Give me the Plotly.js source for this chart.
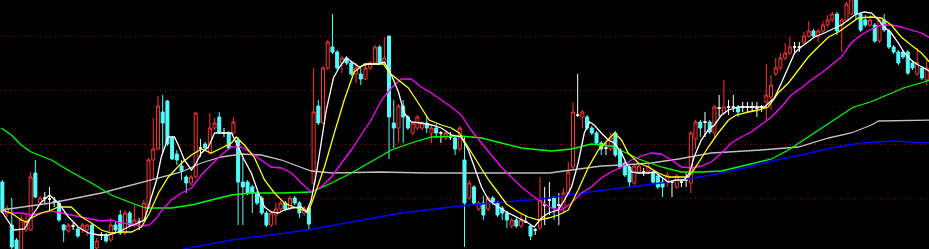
<!DOCTYPE html>
<html>
<head>
<meta charset="utf-8">
<script src="https://cdn.plot.ly/plotly-3.0.1.min.js"></script>
<style>
html,body{margin:0;padding:0;background:#000;}
#chart{width:929px;height:249px;}
</style>
</head>
<body>
<div id="chart"></div>
<script>
// ---- candle data (bar index 0..196), arbitrary price units ----
const openP = [67,35,24,9,-3,19,19,76,46,51,
50,47,46,24,18,23,20,19,19,24,
1,14,14,9,24,34,16,36,24,27,
29,42,89,100,137,148,111,95,83,72,
66,72,101,105,96,121,132,116,116,116,
109,67,67,62,56,51,36,24,34,40,
46,41,51,46,36,41,66,143,126,181,
202,197,186,191,186,175,175,170,181,186,
202,186,213,126,121,143,132,116,121,121,
126,116,121,116,111,112,111,100,89,51,
62,40,46,40,51,46,41,36,23,29,
23,27,23,19,21,44,49,51,44,41,
56,82,134,132,132,121,116,106,101,100,
116,99,86,82,66,77,77,77,77,73,
67,67,67,62,67,69,66,110,127,127,
127,116,141,136,142,142,142,142,142,142,
141,142,147,152,175,181,191,196,202,202,
207,213,218,213,218,224,229,235,224,229,
235,250,235,229,224,224,208,229,218,202,
197,197,197,186,175,181,169];
const highP = [69,44,51,11,34,34,77,89,53,57,
62,52,49,25,26,26,22,26,25,26,
11,17,16,31,27,39,39,38,44,31,
49,91,131,153,154,149,113,99,89,74,
74,137,110,107,136,131,137,121,118,132,
112,91,69,64,58,53,38,38,46,48,
48,53,53,48,43,43,181,149,183,209,
235,199,193,193,188,186,181,186,188,204,
204,212,213,149,145,149,134,128,134,128,
132,123,125,118,118,117,113,123,112,69,
64,48,53,53,53,48,43,38,31,31,
36,34,25,21,72,62,67,53,56,61,
87,147,175,139,134,123,118,108,106,116,
118,101,88,84,85,85,81,85,79,75,
71,77,69,75,70,76,118,129,129,137,
129,144,154,169,149,154,144,147,147,147,
147,144,185,174,191,196,206,212,207,207,
217,228,220,220,228,234,237,237,231,247,
252,252,237,234,234,226,231,235,220,204,
199,199,199,188,201,183,189];
const lowP = [35,32,0,-5,-5,17,18,51,44,46,
37,42,27,7,16,19,11,16,13,-5,
-3,9,6,7,17,14,14,22,21,19,
27,40,69,99,97,103,89,84,69,56,
63,71,92,99,94,119,115,112,99,115,
24,24,54,36,44,34,22,22,24,38,
38,39,44,31,33,20,64,124,125,179,
195,179,176,184,173,166,164,169,179,184,
184,184,90,101,106,106,119,114,119,119,
116,106,111,106,109,109,94,98,2,49,
44,38,29,38,44,32,29,21,21,21,
21,26,9,14,19,24,34,29,24,36,
54,80,132,121,119,114,104,94,94,98,
92,80,72,62,64,75,73,75,65,60,
52,62,52,60,62,62,56,100,112,112,
115,111,132,134,134,137,132,137,136,137,
132,137,127,139,173,179,189,194,197,197,
205,211,211,207,216,222,227,214,197,227,
234,229,217,222,222,206,206,217,200,195,
184,190,174,179,173,169,164];
const closeP = [37,41,2,-2,30,27,72,52,51,51,
50,47,29,19,24,23,13,24,24,-2,
8,14,8,24,19,16,36,24,29,27,
46,89,100,143,126,105,90,89,78,66,
72,136,101,101,121,126,117,116,101,127,
67,62,56,56,46,36,24,36,40,46,
40,51,46,36,41,25,137,126,181,207,
197,181,191,186,175,181,170,181,186,202,
186,191,132,121,143,132,121,126,132,126,
121,121,116,116,116,112,100,121,46,66,
46,46,34,51,46,34,36,29,29,23,
29,27,13,19,49,44,49,41,44,56,
77,137,134,137,121,116,106,100,101,111,
94,82,74,67,83,83,77,83,67,62,
62,74,67,73,67,69,116,127,121,127,
117,142,141,142,142,142,137,142,142,142,
141,142,154,164,181,191,196,202,202,202,
213,218,213,218,224,229,235,218,229,245,
250,235,219,224,229,208,229,219,202,197,
186,192,176,181,186,171,181];

// ---- moving average lines: [bar index], [value] ----
const ma5Idx = [-0.2,2.5,4.7,6.1,8.3,10.0,11.9,14.0,16.1,18.2,20.4,22.5,24.6,26.7,28.8,30.1,31.2,32.7,33.7,35.2,36.5,37.5,38.6,40.1,41.1,42.2,43.7,45.0,48.6,50.0,51.3,52.8,54.3,55.6,57.0,58.5,59.8,61.3,63.4,64.5,65.5,66.6,67.6,68.7,70.2,71.5,72.9,74.4,75.7,77.6,79.7,81.0,82.5,84.0,85.2,86.7,88.8,91.0,93.1,95.2,97.3,98.8,100.1,101.6,103.1,105.2,107.3,109.4,111.5,112.8,114.3,115.8,117.9,119.2,120.7,122.1,123.4,124.5,125.5,127.0,128.5,129.8,131.3,132.3,133.4,134.9,137.0,138.3,139.7,141.2,142.9,144.6,145.7,146.7,148.2,149.7,151.0,152.5,154.0,156.1,161.6,162.6,163.7,165.2,166.7,168.0,169.4,170.9,172.2,174.3,176.4,177.9,179.4,180.7,182.8,184.3,185.8,187.0,188.5,190.0,191.3,192.7,194.2,195.5,196.8];
const ma5Val = [38,19,20,32,47,54,46,32,22,16,14,14,17,22,26,29,46,69,92,112,112,102,89,79,86,96,102,116,116,102,89,76,56,42,37,36,39,41,42,37,49,76,106,139,171,182,191,186,182,185,185,187,174,157,136,127,126,124,121,114,112,99,82,62,49,42,36,31,26,22,31,36,39,49,62,86,116,127,124,116,109,106,96,86,77,76,76,77,72,67,69,69,76,92,109,119,124,134,139,142,142,146,151,166,182,196,202,207,212,216,221,224,229,234,237,236,229,222,216,206,196,189,184,181,177];

const ma10Idx = [-0.2,1.9,4.0,5.1,6.1,8.3,10.4,11.9,14.6,16.8,18.9,21.0,23.1,25.2,27.4,29.5,31.2,33.1,35.2,38.0,40.1,42.2,44.3,46.4,48.6,49.6,51.3,53.4,55.6,57.7,59.8,61.9,64.0,64.9,66.6,68.3,70.4,72.5,74.6,76.8,78.9,80.8,82.1,84.0,86.1,88.2,90.5,93.1,95.2,96.9,98.8,100.9,103.1,105.2,106.9,109.4,111.5,113.7,115.8,117.9,120.0,122.1,124.3,126.4,128.5,129.8,131.3,132.7,134.9,137.0,139.1,141.2,145.5,147.6,149.7,151.8,154.0,155.6,158.2,160.3,162.4,164.5,166.7,168.8,170.9,173.0,175.2,177.3,179.4,181.5,184.3,186.4,188.5,190.6,192.7,194.9,196.8];
const ma10Val = [39,36,29,27,31,36,39,42,42,32,26,19,16,17,17,22,36,56,72,86,94,100,96,101,106,112,104,92,69,56,46,42,39,37,59,82,116,149,177,185,185,185,176,169,161,146,129,124,121,116,102,86,69,56,45,37,32,29,31,34,39,59,82,99,109,116,109,96,86,82,76,72,72,86,102,116,129,134,137,139,142,156,166,179,192,202,212,217,224,231,232,231,224,212,204,196,186];

const ma20Idx = [-0.2,1.9,4.0,6.1,8.3,10.4,12.5,14.6,16.8,18.9,21.0,23.1,25.2,27.4,29.5,31.2,32.7,33.7,35.8,38.0,40.1,42.2,44.3,46.4,48.6,50.7,52.8,54.9,57.0,59.2,61.3,63.4,65.5,67.6,69.8,71.9,74.0,76.1,78.2,80.4,82.5,84.6,86.7,88.8,91.0,93.1,95.2,97.3,99.4,101.6,103.7,105.8,107.9,110.1,112.2,114.3,116.4,118.5,120.7,122.8,124.9,127.0,129.1,131.3,133.4,135.5,137.6,139.7,141.9,144.0,146.1,148.2,150.3,152.5,154.6,156.7,158.8,160.9,163.1,165.2,167.3,169.4,171.5,173.7,175.8,177.9,180.0,182.1,184.3,186.4,188.5,190.6,192.7,194.9,196.8];
const ma20Val = [38,36,36,34,36,38,36,34,32,30,28,29,26,25,23,24,31,38,49,56,61,74,84,94,102,102,96,89,82,81,76,66,57,62,72,86,99,114,129,149,161,170,170,162,156,149,142,134,119,106,94,82,72,62,54,47,41,39,46,56,62,71,77,82,89,93,96,95,89,82,81,83,87,96,106,112,117,124,132,142,154,161,169,176,184,192,206,214,220,224,224,222,219,216,211];

const ma60Idx = [-0.2,1.9,4.0,6.1,10.4,14.6,18.9,23.1,27.4,30.5,35.8,40.1,44.3,48.6,52.8,59.2,65.5,69.8,74.0,78.2,82.5,86.7,91.0,97.3,101.6,105.8,110.1,116.4,120.7,124.9,129.1,132.3,135.5,139.7,144.0,148.2,152.5,157.8,163.1,166.7,169.9,173.5,177.1,180.5,184.1,187.7,191.1,194.7,196.8];
const ma60Val = [121,114,104,97,89,77,66,54,46,41,41,44,49,54,56,56,57,66,76,87,99,106,112,113,111,106,101,98,100,105,103,96,89,82,77,77,78,84,90,99,109,121,132,142,147,154,161,166,169];

const ma120Idx = [-0.2,10.4,21.0,31.6,38.0,42.2,46.4,50.7,54.9,59.2,63.4,65.5,70.0,80.0,90.0,100.0,110.0,116.0,120.7,127.0,131.3,137.6,143.4,150.3,160.9,168.8,175.2,180.0,184.3,185.8,196.8];
const ma120Val = [39,46,56,69,77,86,92,95,94,89,82,78,76,77,76,76,76,76,79,83,84,86,90,96,99,102,111,116,124,128,129];

const ma250Idx = [35.8,38.6,48.6,63.4,74.0,84.6,95.2,105.8,114.3,122.8,131.3,139.7,150.3,157.3,163.1,169.4,175.8,182.1,188.5,192.7,196.8];
const ma250Val = [-3,0,9,18,27,36,42,47,50,56,61,66,74,81,88,94,101,106,108,107,106];

// ---- build candle groups from the data ----
function pick(cond) {
  const g = {x: [], open: [], high: [], low: [], close: []};
  for (let i = 0; i < openP.length; i++) {
    if (cond(openP[i], closeP[i])) {
      g.x.push(i); g.open.push(openP[i]); g.high.push(highP[i]);
      g.low.push(lowP[i]); g.close.push(closeP[i]);
    }
  }
  return g;
}
const up = pick((o, c) => c > o);
const down = pick((o, c) => c < o);
const flat = pick((o, c) => c === o);

const RED = '#ff3232', CYAN = '#54fcfc';
function candle(g, lineCol, fillCol) {
  return Object.assign({
    type: 'candlestick',
    whiskerwidth: 0,
    increasing: {line: {color: lineCol, width: 1}, fillcolor: fillCol},
    decreasing: {line: {color: lineCol, width: 1}, fillcolor: fillCol},
    hoverinfo: 'skip', showlegend: false
  }, g);
}
function line(x, y, color) {
  return {type: 'scatter', mode: 'lines', x: x, y: y,
    line: {color: color, width: 1.3}, hoverinfo: 'skip', showlegend: false};
}

const traces = [
  candle(up, RED, '#000000'),
  candle(down, CYAN, CYAN),
  candle(flat, '#ffffff', '#ffffff'),
  line(ma120Idx, ma120Val, '#c0c0c0'),
  line(ma250Idx, ma250Val, '#0000ff'),
  line(ma60Idx, ma60Val, '#00ff00'),
  line(ma20Idx, ma20Val, '#ff00ff'),
  line(ma10Idx, ma10Val, '#ffff00'),
  line(ma5Idx, ma5Val, '#ffffff')
];

const layout = {
  width: 929, height: 249,
  margin: {l: 0, r: 0, t: 0, b: 0, pad: 0},
  paper_bgcolor: '#000000', plot_bgcolor: '#000000',
  showlegend: false, hovermode: false,
  boxgap: 0.36, boxgroupgap: 0,
  xaxis: {range: [-0.5, 196.5], showgrid: false, zeroline: false,
    showticklabels: false, ticks: '', rangeslider: {visible: false}, fixedrange: true},
  yaxis: {range: [0, 249], tickvals: [51, 105, 159, 213], showgrid: true,
    gridcolor: '#b40000', griddash: '1px,4px', gridwidth: 1, zeroline: false,
    showticklabels: false, ticks: '', fixedrange: true}
};

Plotly.newPlot('chart', traces, layout, {staticPlot: true, displayModeBar: false});
</script>
</body>
</html>
